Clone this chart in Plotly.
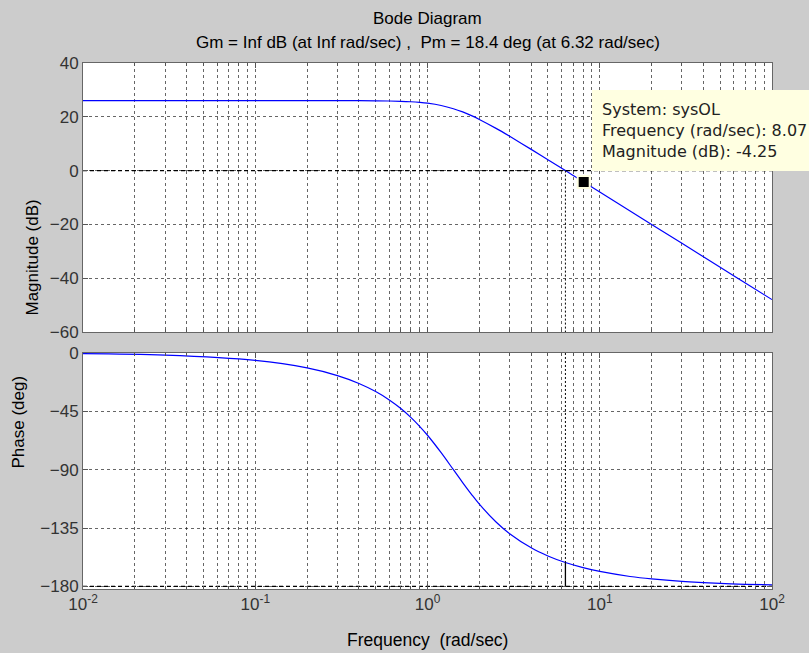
import plotly.graph_objects as go

# ---- data ----
freq = [0.01, 0.03, 0.1, 0.2, 0.3, 0.4, 0.5, 0.6, 0.7, 0.8, 0.9, 1.0, 1.2, 1.414,
        1.6, 1.8, 2.0, 2.5, 3.0, 4.0, 5.0, 6.32, 8.0, 10.0, 15.0, 20.0, 30.0,
        50.0, 70.0, 100.0]
mag_db = [26.02, 26.02, 26.02, 26.02, 26.01, 25.99, 25.95, 25.88, 25.77, 25.60,
          25.36, 25.05, 24.21, 23.01, 21.81, 20.43, 19.03, 15.70, 12.75, 7.89,
          4.05, 0.0, -4.09, -7.96, -15.00, -20.00, -27.04, -35.92, -41.76, -47.96]
phase_deg = [-0.57, -1.72, -5.74, -11.53, -17.44, -23.50, -29.74, -36.19, -42.84,
             -49.64, -56.53, -63.43, -76.87, -90.0, -99.93, -109.0, -116.57,
             -130.36, -139.40, -150.26, -156.50, -161.6, -165.53, -168.47,
             -172.34, -174.26, -176.18, -177.71, -178.36, -178.85]

pm_freq = 6.32
pm_phase = -161.6
tip_freq = 8.07
tip_mag = -4.25

x_major = [0.01, 0.1, 1, 10, 100]
x_major_text = ["10<sup>-2</sup>", "10<sup>-1</sup>", "10<sup>0</sup>",
                "10<sup>1</sup>", "10<sup>2</sup>"]
x_minor = [m * d for d in [0.01, 0.1, 1, 10] for m in range(2, 10)]
mag_ticks = [40, 20, 0, -20, -40, -60]
phase_ticks = [0, -45, -90, -135, -180]

title1 = "Bode Diagram"
title2 = "Gm = Inf dB (at Inf rad/sec) ,  Pm = 18.4 deg (at 6.32 rad/sec)"
tip_lines = ["System: sysOL", "Frequency (rad/sec): 8.07", "Magnitude (dB): -4.25"]

# ---- figure ----
BG = "#cccccc"
GRID = "rgba(0,0,0,0.6)"
BLUE = "#0000ff"
FONT = "Liberation Sans, Arial, sans-serif"
tickfont = dict(family=FONT, size=17, color="#333333")

fig = go.Figure()

fig.add_trace(go.Scatter(x=freq, y=mag_db, mode="lines", line=dict(color=BLUE, width=1.2, shape="spline"),
                         xaxis="x", yaxis="y", showlegend=False, hoverinfo="skip"))
fig.add_trace(go.Scatter(x=freq, y=phase_deg, mode="lines", line=dict(color=BLUE, width=1.2, shape="spline"),
                         xaxis="x2", yaxis="y2", showlegend=False, hoverinfo="skip"))

# reference lines (0 dB, -180 deg)
fig.add_trace(go.Scatter(x=[x_major[0], x_major[-1]], y=[0, 0], mode="lines",
                         line=dict(color="black", width=1.2, dash="4px,3px"),
                         xaxis="x", yaxis="y", showlegend=False, hoverinfo="skip"))
fig.add_trace(go.Scatter(x=[x_major[0], x_major[-1]], y=[-180, -180], mode="lines",
                         line=dict(color="black", width=1.2, dash="4px,3px"),
                         xaxis="x2", yaxis="y2", showlegend=False, hoverinfo="skip"))

# phase margin markers
fig.add_trace(go.Scatter(x=[pm_freq, pm_freq], y=[0, mag_ticks[-1]], mode="lines",
                         line=dict(color="black", width=1, dash="2px,2px"),
                         xaxis="x", yaxis="y", showlegend=False, hoverinfo="skip"))
fig.add_trace(go.Scatter(x=[pm_freq, pm_freq], y=[0, pm_phase], mode="lines",
                         line=dict(color="black", width=1, dash="2px,2px"),
                         xaxis="x2", yaxis="y2", showlegend=False, hoverinfo="skip"))
fig.add_trace(go.Scatter(x=[pm_freq, pm_freq], y=[pm_phase, -180], mode="lines",
                         line=dict(color="black", width=1.3),
                         xaxis="x2", yaxis="y2", showlegend=False, hoverinfo="skip"))

# data tip marker
fig.add_trace(go.Scatter(x=[tip_freq], y=[tip_mag], mode="markers",
                         marker=dict(symbol="square", size=12, color="black",
                                     line=dict(color="#ffffe1", width=2)),
                         xaxis="x", yaxis="y", showlegend=False, hoverinfo="skip"))

xcommon = dict(type="log", range=[-2, 2], tickvals=x_major, ticktext=x_major_text,
               ticks="inside", ticklen=5, tickcolor="#555555",
               showline=True, mirror="ticks", linecolor="#666666", linewidth=1,
               showgrid=True, gridcolor=GRID, griddash="3px,3px", gridwidth=1,
               zeroline=False, tickfont=tickfont,
               minor=dict(tickvals=x_minor, ticks="inside", ticklen=3, tickcolor="#555555",
                          showgrid=True, gridcolor=GRID, griddash="3px,3px", gridwidth=1))
ycommon = dict(ticks="inside", ticklen=5, tickcolor="#555555",
               showline=True, mirror="ticks", linecolor="#666666", linewidth=1,
               showgrid=True, gridcolor=GRID, griddash="3px,3px", gridwidth=1,
               zeroline=False, tickfont=tickfont)

fig.update_layout(
    width=809, height=653,
    margin=dict(l=83, r=37, t=63, b=64),
    paper_bgcolor=BG, plot_bgcolor="white",
    hovermode=False,
    xaxis=dict(xcommon, domain=[0, 1], anchor="y", showticklabels=False),
    yaxis=dict(ycommon, domain=[0.4886, 1], range=[-60, 40], tickvals=mag_ticks, anchor="x"),
    xaxis2=dict(xcommon, domain=[0, 1], anchor="y2", matches="x"),
    yaxis2=dict(ycommon, domain=[0, 0.4487], range=[-182, 0], tickvals=phase_ticks, anchor="x2"),
)

fig.add_annotation(text=title1, xref="paper", yref="paper", x=0.5, y=(589 - 18) / 526,
                   showarrow=False, yanchor="middle",
                   font=dict(family=FONT, size=17, color="black"))
fig.add_annotation(text=title2, xref="paper", yref="paper", x=0.5, y=(589 - 42) / 526,
                   showarrow=False, yanchor="middle",
                   font=dict(family=FONT, size=17, color="black"))
fig.add_annotation(text="Frequency  (rad/sec)", xref="paper", yref="paper", x=0.5, y=(589 - 640) / 526,
                   showarrow=False, yanchor="middle",
                   font=dict(family=FONT, size=17.5, color="black"))
fig.add_annotation(text="Magnitude (dB)", xref="paper", yref="paper", x=(32 - 83) / 689,
                   y=(0.4886 + 1) / 2, textangle=-90, showarrow=False, xanchor="center",
                   font=dict(family=FONT, size=17, color="black"))
fig.add_annotation(text="Phase (deg)", xref="paper", yref="paper", x=(18 - 83) / 689,
                   y=0.4487 / 2, textangle=-90, showarrow=False, xanchor="center",
                   font=dict(family=FONT, size=17, color="black"))

fig.add_annotation(text="<br>".join(tip_lines), xref="paper", yref="y", x=(592 - 83) / 689, y=0,
                   xanchor="left", yanchor="bottom", align="left", showarrow=False,
                   bgcolor="#ffffe1", borderpad=10, borderwidth=0, width=240,
                   font=dict(family="DejaVu Sans, Tahoma, sans-serif", size=16, color="#222222"))

fig.write_html("out.html", config={"displayModeBar": False},
               post_script="document.body.style.margin='0';document.body.style.background='#cccccc';")
